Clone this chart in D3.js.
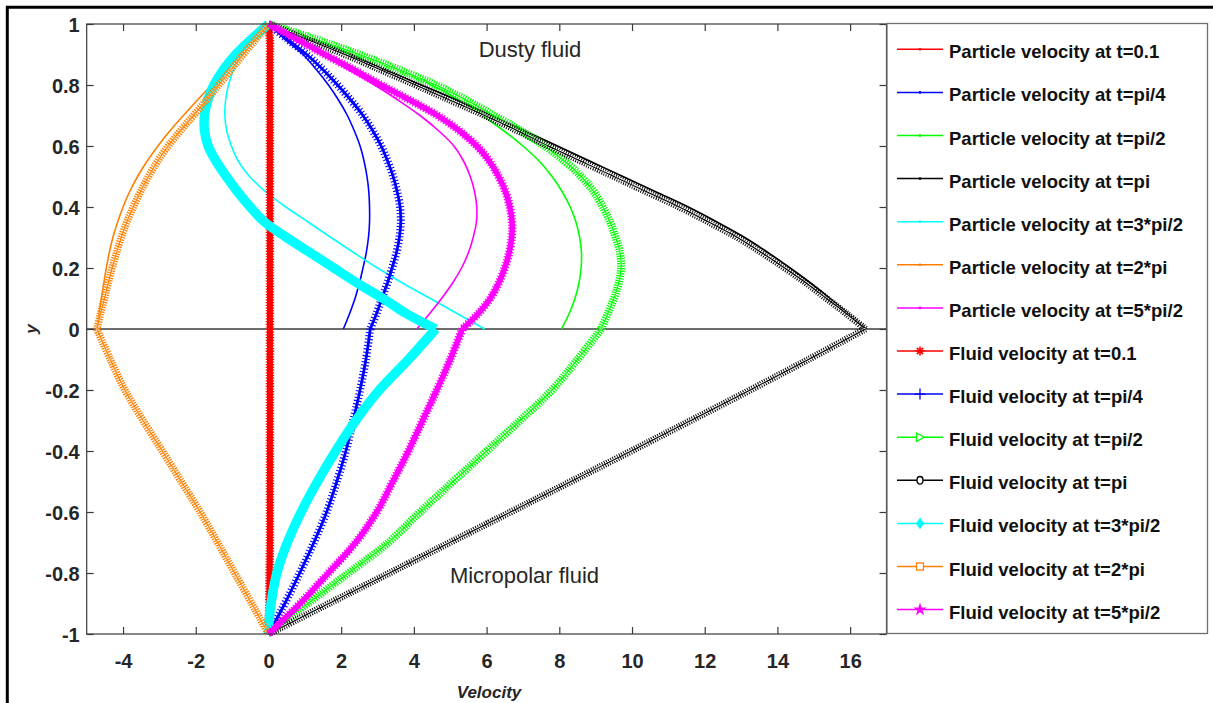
<!DOCTYPE html>
<html>
<head>
<meta charset="utf-8">
<script src="https://cdn.jsdelivr.net/npm/d3@7"></script>
<style>
  html, body { margin: 0; padding: 0; background: #fff; }
  svg { display: block; }
  text { font-family: "Liberation Sans", Arial, Helvetica, sans-serif; }
</style>
</head>
<body>
<svg id="chart" width="1213" height="703"></svg>
<script>
// ---- sampling grids (y positions across the channel) ----
const yTop = [1, 0.95, 0.9, 0.85, 0.8, 0.75, 0.7, 0.65, 0.6, 0.55, 0.5,
              0.45, 0.4, 0.35, 0.3, 0.25, 0.2, 0.15, 0.1, 0.05, 0];
const yBottom = [0, -0.1, -0.2, -0.3, -0.4, -0.5, -0.6, -0.7, -0.8, -0.9, -0.95, -1];

// ---- particle velocity (dusty region, 0 <= y <= 1) ----
const particleT01   = [0, 0.01, 0.01, 0.01, 0.01, 0.01, 0.01, 0.01, 0.01, 0.01, 0.01,
                       0.01, 0.01, 0.01, 0.01, 0.01, 0.01, 0.01, 0.01, 0.01, 0.01];
const particlePi4   = [0, 0.45, 0.95, 1.32, 1.65, 1.93, 2.17, 2.36, 2.52, 2.63, 2.71,
                       2.76, 2.78, 2.78, 2.75, 2.69, 2.6, 2.5, 2.38, 2.23, 2.06];
const particlePi2   = [0, 1.25, 2.45, 3.55, 4.5, 5.25, 5.88, 6.47, 7.0, 7.45, 7.8,
                       8.08, 8.3, 8.46, 8.56, 8.61, 8.6, 8.54, 8.43, 8.27, 8.06];
const particlePi    = [0, 1.1, 2.2, 3.2, 4.2, 5.2, 6.15, 7.05, 7.95, 8.85, 9.75,
                       10.65, 11.55, 12.35, 13.1, 13.75, 14.35, 14.92, 15.45, 15.95, 16.45];
const particle3Pi2  = [0, -0.42, -0.74, -0.96, -1.1, -1.18, -1.2, -1.15, -1.02, -0.83, -0.52,
                       -0.08, 0.48, 1.1, 1.72, 2.35, 3.0, 3.7, 4.45, 5.2, 5.95];
const particle2Pi   = [0, -0.37, -0.77, -1.17, -1.57, -1.96, -2.34, -2.71, -3.04, -3.34, -3.6,
                       -3.82, -4.0, -4.15, -4.28, -4.38, -4.46, -4.53, -4.6, -4.66, -4.72];
const particle5Pi2  = [0, 0.74, 1.48, 2.2, 2.92, 3.57, 4.17, 4.68, 5.1, 5.37, 5.55,
                       5.67, 5.73, 5.72, 5.63, 5.5, 5.31, 5.06, 4.76, 4.43, 4.08];

// ---- fluid velocity, dusty region (0 <= y <= 1) ----
const fluidT01Top   = [0, 0.04, 0.04, 0.04, 0.04, 0.04, 0.04, 0.04, 0.04, 0.04, 0.04,
                       0.04, 0.04, 0.04, 0.04, 0.04, 0.04, 0.04, 0.04, 0.04, 0.04];
const fluidPi4Top   = [0, 0.52, 1.05, 1.5, 1.9, 2.27, 2.6, 2.87, 3.1, 3.28, 3.43,
                       3.54, 3.62, 3.64, 3.6, 3.52, 3.4, 3.27, 3.12, 2.97, 2.8];
const fluidPi2Top   = [0, 1.3, 2.5, 3.6, 4.6, 5.45, 6.2, 6.95, 7.6, 8.15, 8.6,
                       8.95, 9.2, 9.4, 9.55, 9.67, 9.7, 9.63, 9.5, 9.33, 9.15];
const fluidPiTop    = [0, 1.05, 2.1, 3.08, 4.05, 5.0, 5.95, 6.85, 7.7, 8.6, 9.5,
                       10.4, 11.3, 12.12, 12.9, 13.57, 14.2, 14.8, 15.35, 15.9, 16.42];
const fluid3Pi2Top  = [0, -0.47, -0.9, -1.24, -1.5, -1.67, -1.76, -1.76, -1.66, -1.44, -1.16,
                       -0.85, -0.5, -0.1, 0.5, 1.15, 1.8, 2.45, 3.15, 3.8, 4.6];
const fluid2PiTop   = [0, -0.35, -0.7, -1.03, -1.37, -1.71, -2.06, -2.42, -2.76, -3.05, -3.3,
                       -3.52, -3.72, -3.9, -4.05, -4.18, -4.3, -4.41, -4.51, -4.62, -4.72];
const fluid5Pi2Top  = [0, 0.78, 1.55, 2.35, 3.1, 3.9, 4.65, 5.25, 5.73, 6.08, 6.33,
                       6.52, 6.64, 6.7, 6.69, 6.62, 6.5, 6.33, 6.1, 5.77, 5.33];

// ---- fluid velocity, micropolar region (-1 <= y <= 0) ----
const fluidT01Bottom  = [0.04, 0.04, 0.04, 0.04, 0.04, 0.04, 0.04, 0.04, 0.03, 0.02, 0.01, 0];
const fluidPi4Bottom  = [2.8, 2.68, 2.52, 2.33, 2.13, 1.88, 1.6, 1.25, 0.86, 0.45, 0.23, 0];
const fluidPi2Bottom  = [9.15, 8.5, 7.8, 6.92, 6.0, 5.08, 4.17, 3.3, 2.2, 1.08, 0.52, 0];
const fluidPiBottom   = [16.42, 14.85, 13.25, 11.62, 9.98, 8.32, 6.66, 4.99, 3.33, 1.66, 0.83, 0];
const fluid3Pi2Bottom = [4.6, 3.85, 3.05, 2.4, 1.85, 1.35, 0.9, 0.52, 0.23, 0.07, 0.02, 0];
const fluid2PiBottom  = [-4.72, -4.35, -3.95, -3.45, -2.92, -2.4, -1.88, -1.4, -0.93, -0.46, -0.23, 0];
const fluid5Pi2Bottom = [5.33, 5.0, 4.63, 4.24, 3.85, 3.42, 2.98, 2.4, 1.65, 0.87, 0.44, 0];

// ---- axes ----
const xTicks = [-4, -2, 0, 2, 4, 6, 8, 10, 12, 14, 16];
const yTicks = [-1, -0.8, -0.6, -0.4, -0.2, 0, 0.2, 0.4, 0.6, 0.8, 1];

// ---- legend ----
const seriesColors = ["#ff0000", "#0000ff", "#00ff00", "#000000", "#00ffff", "#ff8000", "#ff00ff"];
const timeLabels = ["0.1", "pi/4", "pi/2", "pi", "3*pi/2", "2*pi", "5*pi/2"];
const fluidMarkers = ["*", "+", ">", "o", "d", "s", "p"];

const particleSeries = [particleT01, particlePi4, particlePi2, particlePi, particle3Pi2, particle2Pi, particle5Pi2];
const fluidTop = [fluidT01Top, fluidPi4Top, fluidPi2Top, fluidPiTop, fluid3Pi2Top, fluid2PiTop, fluid5Pi2Top];
const fluidBottom = [fluidT01Bottom, fluidPi4Bottom, fluidPi2Bottom, fluidPiBottom, fluid3Pi2Bottom, fluid2PiBottom, fluid5Pi2Bottom];

// ================= drawing =================
const svg = d3.select("#chart");
const W = 1213, H = 703;
const plot = { left: 86.7, right: 886.5, top: 24, bottom: 634 };
const axisColor = "#3a3a3a";
const textColor = "#262626";

svg.append("rect").attr("width", W).attr("height", H).attr("fill", "#fff");

// outer frame edges
svg.append("path")
  .attr("d", `M7.3,${H} L7.3,7.3 L${W},7.3`)
  .attr("fill", "none").attr("stroke", "#000").attr("stroke-width", 3);

const x = d3.scaleLinear().domain([-5, 17]).range([plot.left, plot.right]);
const y = d3.scaleLinear().domain([-1, 1]).range([plot.bottom, plot.top]);

const fmt = d => String(+d.toFixed(1));

// axes with inward ticks on all four sides
const gx = svg.append("g").attr("transform", `translate(0,${plot.bottom})`)
  .call(d3.axisBottom(x).tickValues(xTicks).tickSizeInner(-7).tickSizeOuter(0).tickPadding(20).tickFormat(fmt));
const gxTop = svg.append("g").attr("transform", `translate(0,${plot.top})`)
  .call(d3.axisTop(x).tickValues(xTicks).tickSizeInner(-7).tickSizeOuter(0).tickFormat(""));
const gy = svg.append("g").attr("transform", `translate(${plot.left},0)`)
  .call(d3.axisLeft(y).tickValues(yTicks).tickSizeInner(-7).tickSizeOuter(0).tickPadding(7).tickFormat(fmt));
const gyRight = svg.append("g").attr("transform", `translate(${plot.right},0)`)
  .call(d3.axisRight(y).tickValues(yTicks).tickSizeInner(-7).tickSizeOuter(0).tickFormat(""));

[gx, gxTop, gy, gyRight].forEach(g => {
  g.select(".domain").remove();
  g.selectAll(".tick line").attr("stroke", axisColor).attr("stroke-width", 1.2);
  g.selectAll(".tick text")
    .attr("fill", textColor)
    .style("font-family", '"Liberation Sans", Arial, sans-serif')
    .style("font-size", "20px")
    .style("font-weight", "bold");
});
gy.selectAll(".tick text").attr("dy", "0.36em");

// zero line separating the two regions
svg.append("line")
  .attr("x1", plot.left).attr("x2", plot.right)
  .attr("y1", y(0)).attr("y2", y(0))
  .attr("stroke", "#3c3c3c").attr("stroke-width", 1.5);

// curves
const curveGen = d3.line()
  .x(d => x(d[0])).y(d => y(d[1]))
  .curve(d3.curveCatmullRom.alpha(0.5));
const toPoints = (vals, ys) => vals.map((v, i) => [v, ys[i]]);

const curves = svg.append("g");

// particle velocity: thin lines
particleSeries.forEach((vals, i) => {
  curves.append("path")
    .attr("d", curveGen(toPoints(vals, yTop)))
    .attr("fill", "none")
    .attr("stroke", seriesColors[i])
    .attr("stroke-width", 1.6)
    .attr("stroke-linejoin", "round");
});

// fluid velocity: dense-marker bands, one layer stack per marker type
const bandLayers = {
  "*": c => [{ w: 6, c }, { w: 8.5, c, dash: "1.2 1.5" }],
  "+": c => [{ w: 2.8, c }, { w: 8, c, dash: "1.1 2.2" }],
  ">": c => [{ w: 8, c, dash: "1.3 1.2" }, { w: 2.2, c: "#fff", dash: "1.6 1.6" }, { w: 1.2, c }],
  "o": c => [{ w: 7, c, dash: "1 1.4" }, { w: 2.6, c: "#fff", dash: "1.6 1.2" }, { w: 1.1, c }],
  "d": c => [{ w: 9.5, c }],
  "s": c => [{ w: 7.5, c, dash: "1.3 1.2" }, { w: 2.2, c: "#fff", dash: "1.6 1.6" }, { w: 1.2, c }],
  "p": c => [{ w: 5.5, c }, { w: 8.5, c, dash: "1.2 1.8" }]
};

fluidTop.forEach((top, i) => {
  const segs = [toPoints(top, yTop), toPoints(fluidBottom[i], yBottom)];
  const layers = bandLayers[fluidMarkers[i]](seriesColors[i]);
  const g = curves.append("g");
  segs.forEach(seg => {
    const d = curveGen(seg);
    layers.forEach(L => {
      g.append("path")
        .attr("d", d)
        .attr("fill", "none")
        .attr("stroke", L.c)
        .attr("stroke-width", L.w)
        .attr("stroke-dasharray", L.dash || null)
        .attr("stroke-linejoin", "round");
    });
  });
});

// plot box
svg.append("rect")
  .attr("x", plot.left).attr("y", plot.top)
  .attr("width", plot.right - plot.left).attr("height", plot.bottom - plot.top)
  .attr("fill", "none").attr("stroke", axisColor).attr("stroke-width", 1.2);

// region annotations
svg.append("text").attr("x", 530).attr("y", 57).attr("text-anchor", "middle")
  .attr("fill", textColor).style("font-size", "22px").text("Dusty fluid");
svg.append("text").attr("x", 524.5).attr("y", 583).attr("text-anchor", "middle")
  .attr("fill", textColor).style("font-size", "22px").text("Micropolar fluid");

// axis titles
svg.append("text").attr("x", 489).attr("y", 698).attr("text-anchor", "middle")
  .attr("fill", textColor).style("font-size", "17px").style("font-weight", "bold")
  .style("font-style", "italic").text("Velocity");
svg.append("text").attr("transform", `translate(37,${y(0)}) rotate(-90)`)
  .attr("text-anchor", "middle")
  .attr("fill", textColor).style("font-size", "17px").style("font-weight", "bold")
  .style("font-style", "italic").text("y");

// legend
const legend = svg.append("g");
legend.append("rect")
  .attr("x", 887).attr("y", 23.5).attr("width", 320.5).attr("height", 610)
  .attr("fill", "#fff").attr("stroke", "#6e6e6e").attr("stroke-width", 1.3);

const legendEntries = [
  ...timeLabels.map((t, i) => ({ label: `Particle velocity at t=${t}`, color: seriesColors[i], marker: "." })),
  ...timeLabels.map((t, i) => ({ label: `Fluid velocity at t=${t}`, color: seriesColors[i], marker: fluidMarkers[i] }))
];

function drawMarker(g, type, cx, cy, c) {
  const m = g.append("g").attr("transform", `translate(${cx},${cy})`);
  const s = 4.5;
  switch (type) {
    case ".":
      m.append("circle").attr("r", 1.4).attr("fill", c);
      break;
    case "*":
      m.append("path")
        .attr("d", `M0,${-s}L0,${s}M${-s},0L${s},0M${-0.7 * s},${-0.7 * s}L${0.7 * s},${0.7 * s}M${-0.7 * s},${0.7 * s}L${0.7 * s},${-0.7 * s}`)
        .attr("stroke", c).attr("stroke-width", 1.6).attr("fill", "none");
      break;
    case "+":
      m.append("path").attr("d", "M0,-5.5L0,5.5M-5.5,0L5.5,0")
        .attr("stroke", c).attr("stroke-width", 1.3).attr("fill", "none");
      break;
    case ">":
      m.append("path").attr("d", "M-3.5,-4.2L4.2,0L-3.5,4.2Z")
        .attr("stroke", c).attr("stroke-width", 1.3).attr("fill", "#fff");
      break;
    case "o":
      m.append("ellipse").attr("rx", 3).attr("ry", 3.8)
        .attr("stroke", c).attr("stroke-width", 1.3).attr("fill", "#fff");
      break;
    case "d":
      m.append("path").attr("d", "M0,-5.8L4.2,0L0,5.8L-4.2,0Z").attr("fill", c);
      break;
    case "s":
      m.append("rect").attr("x", -3.5).attr("y", -3.5).attr("width", 7).attr("height", 7)
        .attr("stroke", c).attr("stroke-width", 1.3).attr("fill", "#fff");
      break;
    case "p":
      m.append("path").attr("d", d3.symbol(d3.symbolStar, 55)()).attr("fill", c);
      break;
  }
}

legendEntries.forEach((e, i) => {
  const cy = 49.3 + 43.1 * i;
  legend.append("line")
    .attr("x1", 897).attr("x2", 943).attr("y1", cy).attr("y2", cy)
    .attr("stroke", e.color).attr("stroke-width", 1.5);
  drawMarker(legend, e.marker, 920, cy, e.color);
  legend.append("text")
    .attr("x", 949).attr("y", cy + 9)
    .attr("fill", "#111")
    .style("font-size", "18.5px").style("font-weight", "bold")
    .text(e.label);
});
</script>
</body>
</html>
